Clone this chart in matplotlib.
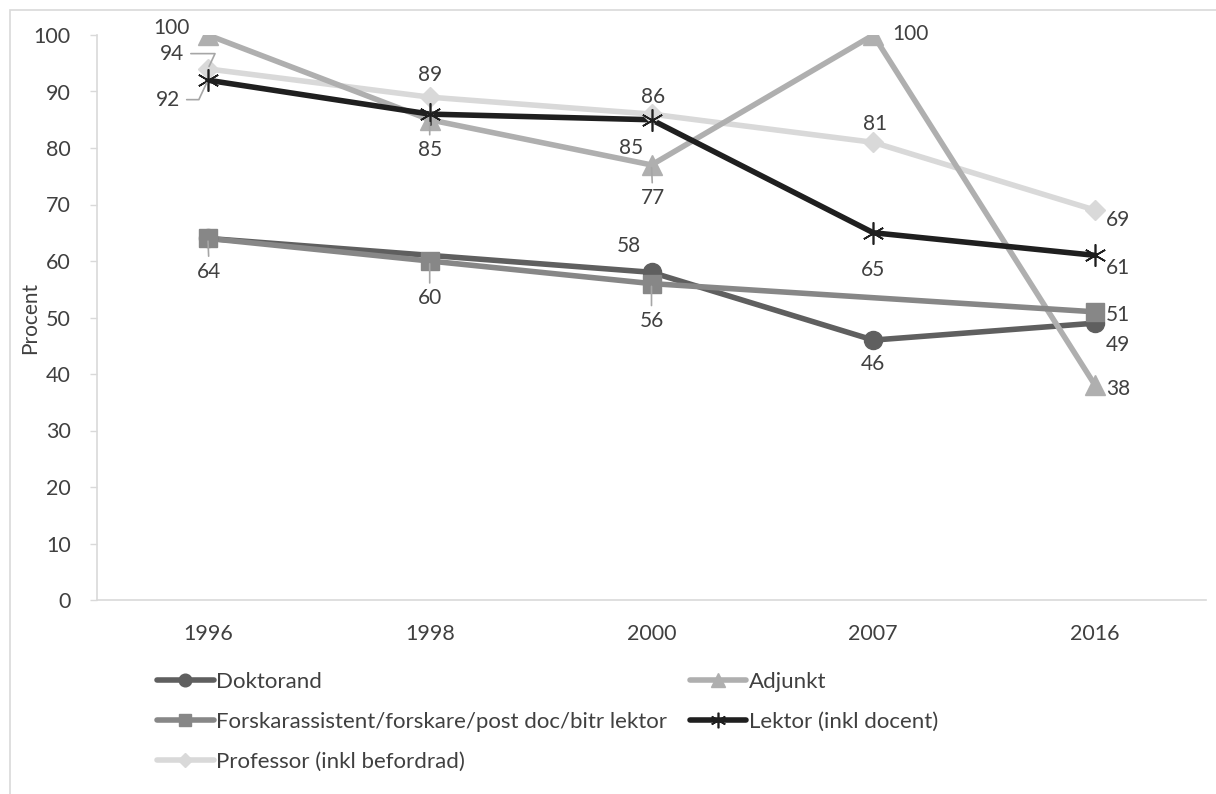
import numpy as np
import matplotlib.pyplot as plt
from matplotlib.patches import Rectangle
from matplotlib.lines import Line2D

plt.rcParams['font.family'] = ['Lato', 'DejaVu Sans']

years = ['1996', '1998', '2000', '2007', '2016']

doktorand = [64, np.nan, 58, 46, 49]
adjunkt = [100, 85, 77, 100, 38]
forskare = [64, 60, 56, np.nan, 51]
lektor = [92, 86, 85, 65, 61]
professor = [94, 89, 86, 81, 69]

series_names = ['Doktorand', 'Adjunkt',
                'Forskarassistent/forskare/post doc/bitr lektor',
                'Lektor (inkl docent)', 'Professor (inkl befordrad)']

TEXT = '#404040'
GRID = '#d9d9d9'

fig = plt.figure(figsize=(12.16, 7.94), dpi=100)
ax = fig.add_axes([97 / 1216, 1 - 600 / 794, 1109 / 1216, 565 / 794])

x = np.arange(len(years))

styles = {
    'Doktorand': dict(color='#5f5f5f', marker='o', ms=13),
    'Adjunkt': dict(color='#afafaf', marker='^', ms=14),
    'Forskarassistent/forskare/post doc/bitr lektor': dict(color='#878787', marker='s', ms=13),
    'Lektor (inkl docent)': dict(color='#1f1f1f', marker=(6, 2, 0), ms=16, mew=1.2),
    'Professor (inkl befordrad)': dict(color='#d9d9d9', marker='D', ms=10),
}
values = dict(zip(series_names, [doktorand, adjunkt, forskare, lektor, professor]))

# stacking order of the series (later ones on top)
draw_order = ['Professor (inkl befordrad)', 'Doktorand', 'Adjunkt',
              'Forskarassistent/forskare/post doc/bitr lektor',
              'Lektor (inkl docent)']
handles = {}
for k, name in enumerate(draw_order):
    st = styles[name]
    y = np.array(values[name], dtype=float)
    ok = ~np.isnan(y)
    # missing points are bridged by the line, without a marker
    ax.plot(x[ok], y[ok], color=st['color'], lw=4, solid_capstyle='round', zorder=2 + k * 0.1)
    ax.plot(x[ok], y[ok], ls='none', marker=st['marker'], ms=st['ms'],
            color=st['color'], mec=st['color'], mew=st.get('mew', 1), zorder=3 + k * 0.1)
    handles[name] = Line2D([], [], color=st['color'], lw=4, solid_capstyle='round',
                           marker=st['marker'], ms=st['ms'] * 0.7, mec=st['color'],
                           mew=st.get('mew', 1))

# label offsets in points: (dx, dy, ha, leader)
offsets = {
    'Adjunkt': [(-26, 5, 'center', False), (0, -22, 'center', True),
                (1, -24, 'center', True), (27, 1, 'center', False),
                (8, -3, 'left', False)],
    'Professor (inkl befordrad)': [(-26, 11, 'center', 'elbow'), (0, 16, 'center', False),
                                   (1, 12, 'center', False), (1, 13, 'center', False),
                                   (8, -7, 'left', False)],
    'Lektor (inkl docent)': [(-29, -14, 'center', 'elbow'), None,
                             (-15, -20, 'center', False), (0, -27, 'center', False),
                             (8, -9, 'left', False)],
    'Doktorand': [None, None, (-16, 19, 'center', False), (0, -17, 'center', False),
                  (8, -16, 'left', False)],
    'Forskarassistent/forskare/post doc/bitr lektor': [(1, -24, 'center', True),
                                                       (0, -27, 'center', True),
                                                       (0, -27, 'center', True), None,
                                                       (8, -2, 'left', False)],
}

for name, offs in offsets.items():
    for i, off in enumerate(offs):
        if off is None:
            continue
        v = values[name][i]
        if np.isnan(v):
            continue
        dx, dy, ha, leader = off
        kw = dict(textcoords='offset points', xytext=(dx, dy), ha=ha, va='center',
                  fontsize=15, color=TEXT, zorder=5)
        if leader == 'elbow':
            kw['arrowprops'] = dict(arrowstyle='-', color='#a6a6a6', lw=1.2,
                                    shrinkA=3, shrinkB=2,
                                    connectionstyle='angle,angleA=0,angleB=65,rad=0')
        elif leader:
            kw['arrowprops'] = dict(arrowstyle='-', color='#a6a6a6', lw=1.2,
                                    shrinkA=2, shrinkB=2)
        ax.annotate(f'{int(v)}', xy=(x[i], v), **kw)

ax.set_xlim(-0.5, len(years) - 0.5)
ax.set_ylim(0, 100)
ax.set_yticks(range(0, 101, 10))
ax.set_xticks(x)
ax.set_xticklabels(years)
ax.tick_params(axis='y', length=5, width=1, color=GRID, labelsize=15.5,
               labelcolor=TEXT, pad=14)
ax.tick_params(axis='x', length=0, labelsize=15.5, labelcolor=TEXT, pad=17)
for side in ['top', 'right']:
    ax.spines[side].set_visible(False)
for side in ['left', 'bottom']:
    ax.spines[side].set_color(GRID)
    ax.spines[side].set_linewidth(1.2)
ax.set_ylabel('Procent', fontsize=15, color=TEXT)
ax.yaxis.set_label_coords((40 - 97) / 1109, 0.5)

# legend: two columns, filled column-wise
leg_order = ['Doktorand', 'Forskarassistent/forskare/post doc/bitr lektor',
             'Professor (inkl befordrad)', 'Adjunkt', 'Lektor (inkl docent)']
fig.legend([handles[n] for n in leg_order], leg_order, ncol=2,
           loc='upper left', bbox_to_anchor=(157 / 1216, 1 - 672 / 794),
           frameon=False, fontsize=16, labelcolor=TEXT, handlelength=2.55,
           handletextpad=0.12, columnspacing=1.0, labelspacing=0.9,
           borderpad=0, borderaxespad=0)

# chart area border
fig.add_artist(Rectangle((10 / 1216, -0.05), 1.2, 1 - 10 / 794 + 0.05,
                         transform=fig.transFigure, fill=False,
                         edgecolor=GRID, lw=1.2))

fig.savefig('out.png', dpi=100)
